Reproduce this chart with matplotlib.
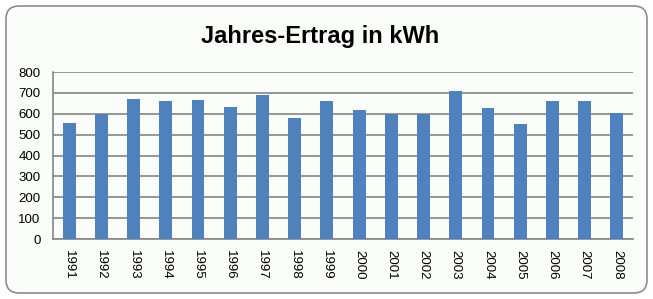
import matplotlib.pyplot as plt
from matplotlib.patches import FancyBboxPatch

years = ['1991', '1992', '1993', '1994', '1995', '1996', '1997', '1998', '1999',
         '2000', '2001', '2002', '2003', '2004', '2005', '2006', '2007', '2008']
ertrag = [558, 600, 672, 663, 668, 634, 692, 581, 663,
          620, 597, 597, 711, 629, 553, 663, 663, 605]
y_ticks = [0, 100, 200, 300, 400, 500, 600, 700, 800]

plt.rcParams['font.family'] = ['Liberation Sans', 'DejaVu Sans']

fig = plt.figure(figsize=(6.53, 2.99), dpi=100)
fig.patch.set_facecolor('white')

# rounded chart frame, behind the axes
frame = FancyBboxPatch((6 / 653, 6 / 299), 641 / 653, 287 / 299,
                       boxstyle='round,pad=0,rounding_size=0.02',
                       transform=fig.transFigure, facecolor='#fbfdfb',
                       edgecolor='#8c8c8c', linewidth=1.2,
                       mutation_aspect=653 / 299, zorder=-10)
fig.add_artist(frame)

ax = fig.add_axes([53 / 653, 1 - 239 / 299, 580 / 653, 167 / 299])
ax.set_facecolor('#fbfdfb')
ax.bar(range(len(years)), ertrag, width=0.4, color='#4f81bd', zorder=3)

ax.set_xlim(-0.5, len(years) - 0.5)
ax.set_ylim(0, 800)
ax.set_yticks(y_ticks)
ax.set_xticks(range(len(years)))
ax.set_xticklabels(years, rotation=270, fontsize=9.5)
ax.tick_params(axis='y', labelsize=9.5, length=0, pad=9)
ax.tick_params(axis='x', length=0, pad=8)
ax.grid(axis='y', color='#868686', linewidth=1.2, zorder=0)

for side in ['top', 'right']:
    ax.spines[side].set_visible(False)
for side in ['left', 'bottom']:
    ax.spines[side].set_color('#868686')
    ax.spines[side].set_linewidth(1.2)

fig.text(320 / 653, 1 - 37 / 299, 'Jahres-Ertrag in kWh', ha='center', va='center',
         fontsize=17, fontweight='bold')

fig.savefig('out.png', dpi=100)
